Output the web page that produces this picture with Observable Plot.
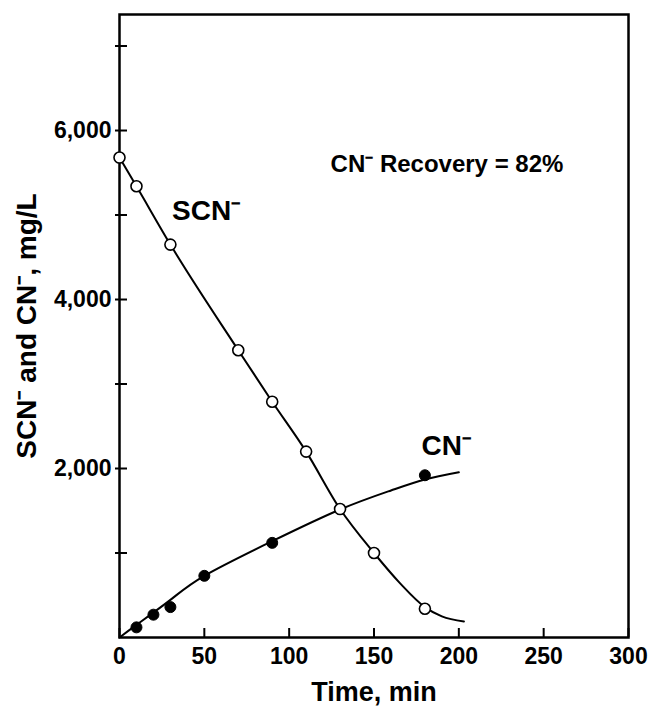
<!DOCTYPE html>
<html><head><meta charset="utf-8">
<script src="https://cdn.jsdelivr.net/npm/d3@7"></script>
<script src="https://cdn.jsdelivr.net/npm/@observablehq/plot@0.6"></script>
<style>body{margin:0;background:#fff;}</style>
</head><body><div id="chart"></div>
<script>
// measured SCN- points (open circles)
const scnTime = [0, 10, 30, 70, 90, 110, 130, 150, 180];
const scnValue = [5680, 5340, 4650, 3400, 2790, 2200, 1520, 1000, 340];
// measured CN- points (filled circles)
const cnTime = [10, 20, 30, 50, 90, 180];
const cnValue = [120, 270, 360, 730, 1120, 1920];
// hand-drawn fitted curves
const scnFitTime = [0, 10, 30, 70, 90, 110, 130, 150, 165, 180, 190, 203];
const scnFitValue = [5680, 5340, 4650, 3400, 2790, 2200, 1520, 1000, 650, 360, 250, 190];
const cnFitTime = [0, 10, 30, 50, 90, 130, 160, 180, 200];
const cnFitValue = [0, 150, 445, 730, 1140, 1515, 1740, 1870, 1955];
// axes
const xTicks = [0, 50, 100, 150, 200, 250, 300];
const yTicks = [1000, 2000, 3000, 4000, 5000, 6000, 7000];
const yLabeled = [2000, 4000, 6000];
// annotations
const seriesLabels = ["SCN⁻", "CN⁻"];
const seriesLabelX = [31, 178];
const seriesLabelY = [5050, 2270];
const noteText = "CN⁻ Recovery = 82%";
const noteX = 193, noteY = 5600;

const scnPts = scnTime.map((t, i) => ({t, v: scnValue[i]}));
const cnPts = cnTime.map((t, i) => ({t, v: cnValue[i]}));
const scnFit = scnFitTime.map((t, i) => ({t, v: scnFitValue[i]}));
const cnFit = cnFitTime.map((t, i) => ({t, v: cnFitValue[i]}));
const lbls = seriesLabels.map((s, i) => ({text: s, x: seriesLabelX[i], y: seriesLabelY[i]}));

const font = "'Liberation Sans', Arial, Helvetica, sans-serif";

const chart = Plot.plot({
  width: 651,
  height: 706,
  marginLeft: 119,
  marginRight: 23,
  marginTop: 14,
  marginBottom: 69,
  style: {fontFamily: font, color: "#000", background: "#fff"},
  x: {domain: [0, 300]},
  y: {domain: [0, 7373]},
  marks: [
    Plot.axisX({ticks: xTicks, tickSize: -9, tickPadding: 19, tickFormat: d => String(d),
      fontSize: 23, fontWeight: "bold", label: null, strokeWidth: 2}),
    Plot.axisY({ticks: yTicks, tickSize: -8, tickPadding: 16,
      tickFormat: d => yLabeled.includes(d) ? d3.format(",")(d) : "",
      fontSize: 23, fontWeight: "bold", label: null, strokeWidth: 2}),
    Plot.axisY({ticks: yTicks, tickSize: 4, tickFormat: () => "", label: null, strokeWidth: 2}),
    Plot.frame({stroke: "#000", strokeWidth: 2.5}),
    Plot.line(cnFit, {x: "t", y: "v", curve: "natural", stroke: "#000", strokeWidth: 2}),
    Plot.line(scnFit, {x: "t", y: "v", curve: "monotone-x", stroke: "#000", strokeWidth: 2}),
    Plot.dot(cnPts, {x: "t", y: "v", r: 5.5, fill: "#000", stroke: "#000", strokeWidth: 1}),
    Plot.dot(scnPts, {x: "t", y: "v", r: 5.5, fill: "#fff", stroke: "#000", strokeWidth: 1.6}),
    Plot.text(lbls, {x: "x", y: "y", text: "text", textAnchor: "start", fontSize: 28, fontWeight: "bold", fill: "#000"}),
    Plot.text([noteText], {x: noteX, y: noteY, text: d => d, fontSize: 24, fontWeight: "bold", fill: "#000"}),
    Plot.text(["Time, min"], {frameAnchor: "bottom", dy: 63, lineAnchor: "bottom", textAnchor: "middle", fontSize: 27, fontWeight: "bold", fill: "#000"}),
    Plot.text(["SCN⁻ and CN⁻, mg/L"], {frameAnchor: "left", dx: -84, rotate: -90, lineAnchor: "bottom", textAnchor: "middle", fontSize: 28, fontWeight: "bold", fill: "#000"})
  ]
});
document.getElementById("chart").appendChild(chart);
</script>
</body></html>
